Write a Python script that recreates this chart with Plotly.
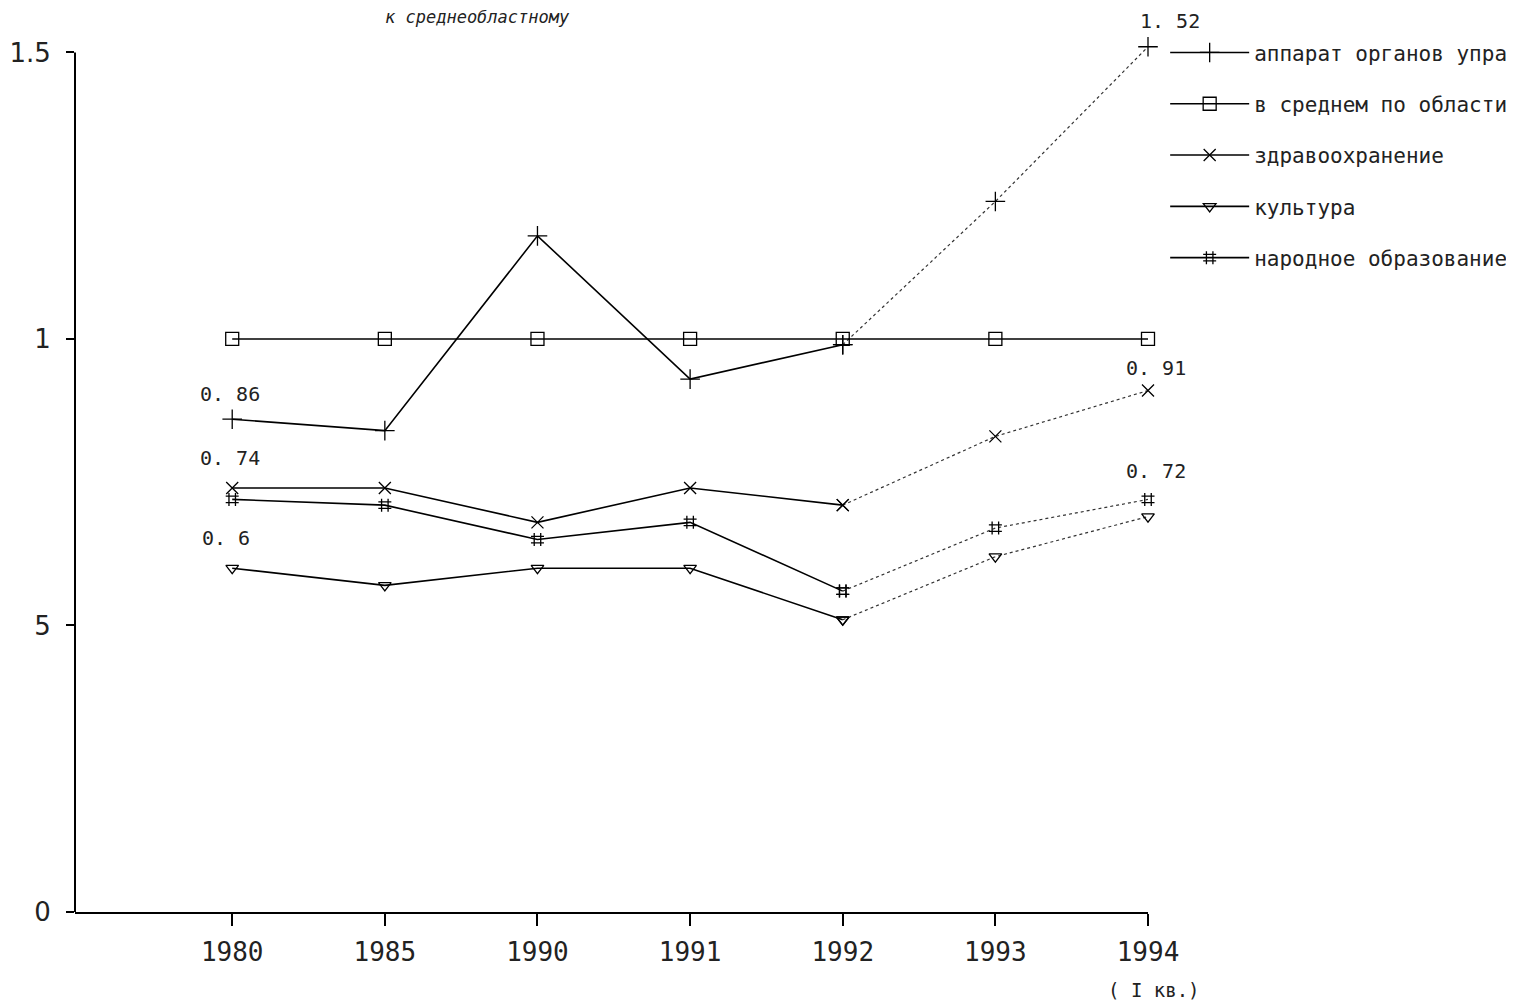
import plotly.graph_objects as go

years = ["1980", "1985", "1990", "1991", "1992", "1993", "1994"]
apparat = [0.86, 0.84, 1.18, 0.93, 0.99, 1.24, 1.51]
srednee = [1.0, 1.0, 1.0, 1.0, 1.0, 1.0, 1.0]
zdrav = [0.74, 0.74, 0.68, 0.74, 0.71, 0.83, 0.91]
kultura = [0.60, 0.57, 0.60, 0.60, 0.51, 0.62, 0.69]
narod = [0.72, 0.71, 0.65, 0.68, 0.56, 0.67, 0.72]

names = ["аппарат органов упра", "в среднем по области", "здравоохранение", "культура", "народное образование"]
series = [apparat, srednee, zdrav, kultura, narod]
symbols = ["cross-thin", "square-open", "x-thin", "triangle-down-open", "hash"]
sizes = [14, 13, 12, 11, 13]
dotted_tail = [True, False, True, True, True]

ytick_vals = [0, 0.5, 1, 1.5]
ytick_text = ["0", "5", "1", "1.5"]

FONT = "DejaVu Sans Mono"
fig = go.Figure()
split = 4  # index of 1992
for i, (nm, ys) in enumerate(zip(names, series)):
    mk = dict(symbol=symbols[i], size=sizes[i], color="black",
              line=dict(color="black", width=1.3))
    if dotted_tail[i]:
        fig.add_trace(go.Scatter(x=years[:split + 1], y=ys[:split + 1], mode="lines+markers",
                                 name=nm, legendgroup=nm, marker=mk,
                                 line=dict(color="black", width=1.6), cliponaxis=False))
        fig.add_trace(go.Scatter(x=years[split:], y=ys[split:], mode="lines+markers",
                                 name=nm, legendgroup=nm, showlegend=False, marker=mk,
                                 line=dict(color="#333", width=1.2, dash="dot"), cliponaxis=False))
    else:
        fig.add_trace(go.Scatter(x=years, y=ys, mode="lines+markers", name=nm, legendgroup=nm,
                                 marker=mk, line=dict(color="black", width=1.6), cliponaxis=False))

labels = [("1994", "1. 52", apparat[6], 26, 22),
          ("1980", "0. 86", apparat[0], 25, -2),
          ("1980", "0. 74", zdrav[0], 30, -2),
          ("1980", "0. 6", kultura[0], 30, -6),
          ("1994", "0. 91", zdrav[6], 23, 8),
          ("1994", "0. 72", narod[6], 28, 8)]
for x, t, y, ys_, xs_ in labels:
    fig.add_annotation(x=years.index(x), y=y, text=t, showarrow=False, yshift=ys_, xshift=xs_,
                       font=dict(family=FONT, size=20, color="#222"))

fig.add_annotation(xref="paper", yref="paper", x=0.3747, y=1.0275, xanchor="center", yanchor="middle",
                   text="<i>к среднеобластному</i>",
                   showarrow=False, font=dict(family=FONT, size=17, color="#222"))
fig.add_annotation(x=years.index("1994"), y=0, text="( I кв.)", showarrow=False, yshift=-78, xshift=6,
                   font=dict(family=FONT, size=19, color="#222"))

# y axis line only up to the 1.5 tick
fig.add_shape(type="line", xref="paper", yref="y", x0=0, x1=0, y0=0, y1=1.5,
              line=dict(color="black", width=2))

fig.update_layout(
    width=1506, height=996,
    margin=dict(l=67, r=366, t=33, b=92, autoexpand=False),
    plot_bgcolor="white", paper_bgcolor="white",
    font=dict(family=FONT, color="#222"),
    showlegend=True,
    legend=dict(x=1.016, y=1.01, xanchor="left", yanchor="top", font=dict(family=FONT, size=21),
                itemwidth=79, tracegroupgap=21, bgcolor="rgba(0,0,0,0)"),
)
fig.update_xaxes(type="category", range=[-1.03, 6], showgrid=False, zeroline=False, automargin=False,
                 showline=True, linecolor="black", linewidth=2, ticks="outside", ticklen=12,
                 tickcolor="black", tickwidth=1.5, ticklabelstandoff=4,
                 tickfont=dict(family=FONT, size=26, color="#222"))
fig.update_yaxes(range=[0, 1.52], showgrid=False, zeroline=False, showline=False,
                 automargin=False, ticks="outside", ticklen=8, tickcolor="black", tickwidth=2,
                 tickvals=ytick_vals, ticktext=ytick_text, ticklabelstandoff=10,
                 tickfont=dict(family="DejaVu Sans", size=26, color="#222"))

fig.write_html("out.html")
